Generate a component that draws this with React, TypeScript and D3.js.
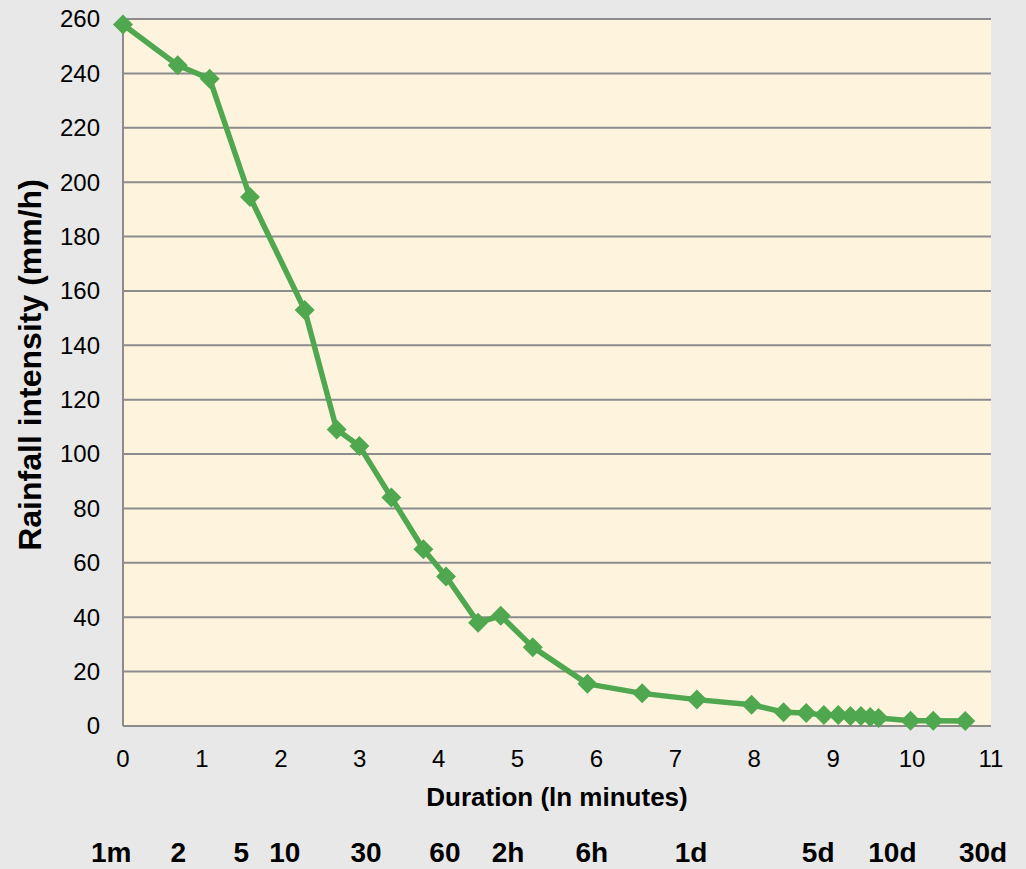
import * as d3 from "d3";
import React from "react";

// durations in minutes, intensities (mm/h)
const durations = [1, 2, 3, 5, 10, 15, 20, 30, 45, 60, 90, 120, 180, 360, 720, 1440, 2880, 4320, 5760, 7200, 8640, 10080, 11520, 12960, 14400, 21600, 28800, 43200];
const intensity = [258, 243, 238, 194.5, 153, 109, 103, 84, 65, 55, 38, 40.5, 29, 15.5, 12, 9.7, 7.8, 5.1, 4.8, 4.0, 4.0, 3.7, 3.7, 3.3, 2.9, 1.9, 1.9, 1.8];

const xTicks = [0, 1, 2, 3, 4, 5, 6, 7, 8, 9, 10, 11];
const yTicks = [0, 20, 40, 60, 80, 100, 120, 140, 160, 180, 200, 220, 240, 260];

// duration labels under the axis, placed at ln(minutes)
const durLabels = ["1m", "2", "5", "10", "30", "60", "2h", "6h", "1d", "5d", "10d", "30d"];
const durLabelAt = [-0.15, 0.70, 1.50, 2.05, 3.08, 4.08, 4.88, 5.94, 7.2, 8.81, 9.75, 10.9];

const W = 1026, H = 869;
const left = 123, right = 991, top = 19, bottom = 726;
const font = "'Liberation Sans', Arial, sans-serif";
const green = "#4fa84f";

export default function App() {
  const x = d3.scaleLinear().domain([0, 11]).range([left, right]);
  const y = d3.scaleLinear().domain([0, 260]).range([bottom, top]);

  const pts = durations.map((d, i) => [Math.log(d), intensity[i]] as [number, number]);
  const line = d3.line<[number, number]>()
    .x(d => x(d[0]))
    .y(d => y(d[1]));
  const diamond = d3.symbol().type(d3.symbolSquare).size(200)();

  return (
    <div style={{ position: "absolute", left: 0, top: 0 }}>
      <svg width={W} height={H} style={{ display: "block" }} fontFamily={font}>
        <rect width={W} height={H} fill="#e8e8e8" />
        <rect x={left} y={top} width={right - left} height={bottom - top} fill="#fef4de" />
        {yTicks.slice(1).map(t => (
          <line key={t} x1={left} x2={right} y1={y(t)} y2={y(t)} stroke="#8c8c8c" strokeWidth={2} />
        ))}
        <line x1={left} x2={left} y1={top} y2={bottom} stroke="#8c8c8c" strokeWidth={2} />
        <line x1={left} x2={right} y1={bottom} y2={bottom} stroke="#8c8c8c" strokeWidth={2} />

        {yTicks.map(t => (
          <text key={t} x={left - 23} y={y(t)} dy="0.35em" textAnchor="end" fontSize={24} fill="#000">{t}</text>
        ))}
        {xTicks.map(t => (
          <text key={t} x={x(t)} y={767} textAnchor="middle" fontSize={24} fill="#000">{t}</text>
        ))}

        <path d={line(pts) || ""} fill="none" stroke={green} strokeWidth={5.5} strokeLinejoin="round" />
        {pts.map((p, i) => (
          <path key={i} d={diamond || ""} transform={`translate(${x(p[0])},${y(p[1])}) rotate(45)`} fill={green} />
        ))}

        <text x={557} y={806} textAnchor="middle" fontSize={26} fontWeight="bold" fill="#000">Duration (ln minutes)</text>
        <text transform="translate(41,365) rotate(-90)" textAnchor="middle" fontSize={32} fontWeight="bold" fill="#000">Rainfall intensity (mm/h)</text>

        {durLabels.map((s, i) => (
          <text key={s} x={x(durLabelAt[i])} y={862} textAnchor="middle" fontSize={28} fontWeight="bold" fill="#000">{s}</text>
        ))}
      </svg>
    </div>
  );
}
